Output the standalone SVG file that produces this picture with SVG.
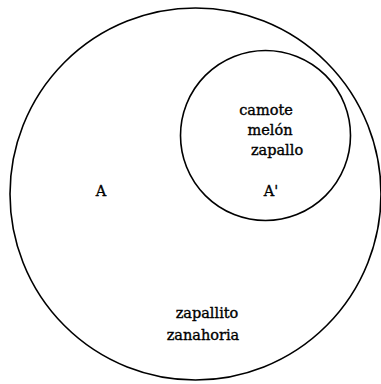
<svg xmlns="http://www.w3.org/2000/svg" width="381" height="384" viewBox="0 0 381 384">
<style>
.c{fill:none;stroke:#000;stroke-width:1.6}
.t{font-family:"DejaVu Serif","Liberation Serif",serif;font-size:14.5px;fill:#000;stroke:#000;stroke-width:0.35}
</style>
<rect width="381" height="384" fill="#fff"/>
<g id="A">
<ellipse class="c" cx="195.5" cy="194" rx="185.5" ry="186"/>
<text class="t" x="101" y="196" text-anchor="middle">A</text>
<text class="t" x="207" y="318" text-anchor="middle">zapallito</text>
<text class="t" x="203" y="340" text-anchor="middle">zanahoria</text>
</g>
<g id="A-prime">
<circle class="c" cx="265.5" cy="135.5" r="85"/>
<text class="t" x="266" y="115" text-anchor="middle">camote</text>
<text class="t" x="270" y="135" text-anchor="middle">melón</text>
<text class="t" x="277" y="155" text-anchor="middle">zapallo</text>
<text class="t" x="271" y="196" text-anchor="middle">A'</text>
</g>
<g id="connectors"/>
</svg>
